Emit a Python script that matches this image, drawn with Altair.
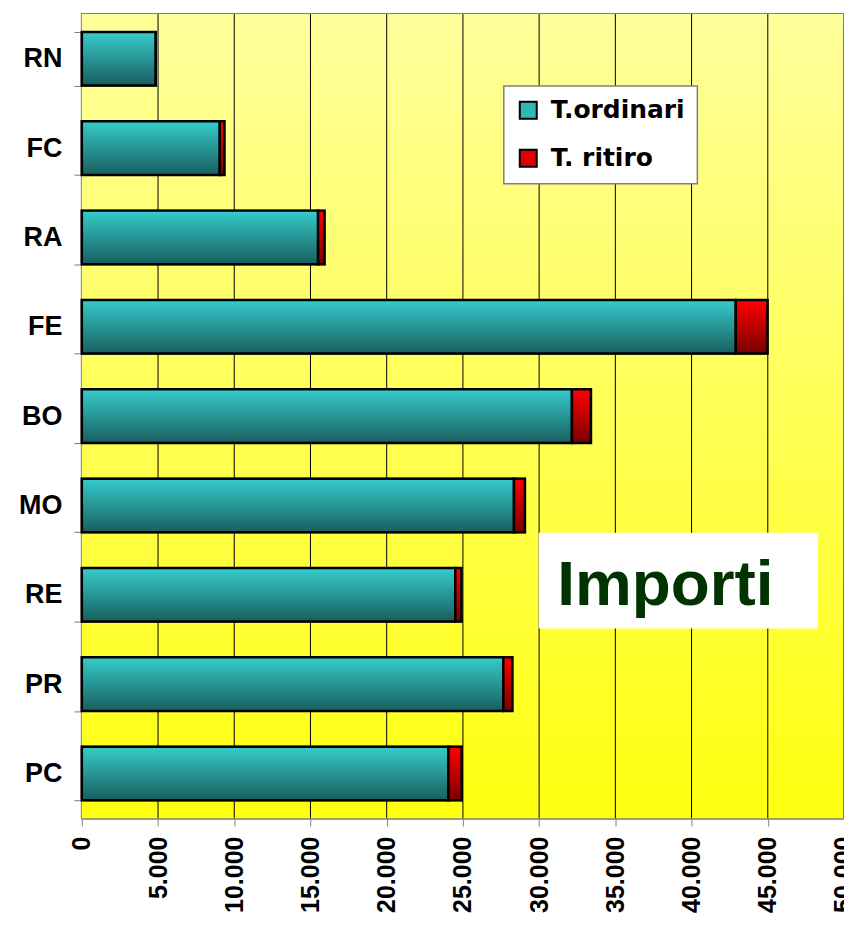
import altair as alt
import pandas as pd

categories = ["RN", "FC", "RA", "FE", "BO", "MO", "RE", "PR", "PC"]
ordinari = [4850, 9050, 15500, 42900, 32150, 28350, 24500, 27650, 24050]
ritiro = [0, 300, 420, 2080, 1250, 720, 400, 590, 870]
series_names = ["T.ordinari", "T. ritiro"]
tick_values = [0, 5000, 10000, 15000, 20000, 25000, 30000, 35000, 40000, 45000, 50000]
grid_values = tick_values[1:]

W, H = 764, 806

rows = []
for c, o, r in zip(categories, ordinari, ritiro):
    rows.append({"cat": c, "series": series_names[0], "start": 0, "end": o})
    rows.append({"cat": c, "series": series_names[1], "start": o, "end": o + r})
df = pd.DataFrame(rows)

ysc = alt.Scale(domain=categories, paddingInner=0.4, paddingOuter=0.2)
xsc = alt.Scale(domain=[0, 50000], nice=False)

def grad(top, bottom):
    return alt.Gradient(
        gradient="linear",
        stops=[alt.GradientStop(color=top, offset=0), alt.GradientStop(color=bottom, offset=1)],
        x1=0, x2=0, y1=0, y2=1,
    )

blank = alt.Data(values=[{}])

background = alt.Chart(blank).mark_rect(fill=grad("#FFFF9C", "#FFFF10")).encode(
    x=alt.value(0), x2=alt.value(W), y=alt.value(0), y2=alt.value(H)
)

grid = alt.Chart(pd.DataFrame({"g": grid_values})).mark_rule(color="#000000", strokeWidth=1).encode(
    x=alt.X("g:Q", scale=xsc), y=alt.value(0), y2=alt.value(H)
)

x_axis = alt.Axis(
    values=tick_values,
    labelExpr="replace(format(datum.value, ','), ',', '.')",
    labelAngle=-90,
    labelFont="Liberation Sans", labelFontWeight="bold", labelFontSize=25, labelColor="black",
    labelPadding=10, tickSize=8, tickColor="#808080", domainColor="#808080", domainWidth=2,
    grid=False, title=None, labelOverlap=False, labelBound=False,
)
y_axis = alt.Axis(
    labelFont="Liberation Sans", labelFontWeight="bold", labelFontSize=27, labelColor="black",
    labelPadding=12, tickSize=8, tickColor="#808080", tickBand="extent",
    domainColor="#808080", domainWidth=2, grid=False, title=None,
)

flat = alt.Chart(df).mark_bar(stroke="black", strokeWidth=2).encode(
    x=alt.X("start:Q", scale=xsc, axis=x_axis),
    x2="end:Q",
    y=alt.Y("cat:N", scale=ysc, axis=y_axis, sort=categories),
    color=alt.Color("series:N", scale=alt.Scale(domain=series_names, range=["#2EB8B8", "#E00000"]),
                    legend=alt.Legend(title=None)),
)

teal = alt.Chart(df).transform_filter(alt.datum.series == series_names[0]).mark_bar(
    fill=grad("#36CCCC", "#195E5E"), stroke="black", strokeWidth=2.5
).encode(x=alt.X("start:Q", scale=xsc), x2="end:Q", y=alt.Y("cat:N", scale=ysc, sort=categories))

red = alt.Chart(df).transform_filter(alt.datum.series == series_names[1]).mark_bar(
    fill=grad("#FF0000", "#7A0000"), stroke="black", strokeWidth=2.5
).encode(x=alt.X("start:Q", scale=xsc), x2="end:Q", y=alt.Y("cat:N", scale=ysc, sort=categories))

box = alt.Chart(blank).mark_rect(fill="white").encode(
    x=alt.value(458), x2=alt.value(738), y=alt.value(520), y2=alt.value(616)
)
title_text = alt.Chart(blank).mark_text(
    text="Importi", font="Liberation Sans", fontWeight="bold", fontSize=64,
    color="#003300", align="center", baseline="alphabetic"
).encode(x=alt.value(585), y=alt.value(592))

chart = alt.layer(background, grid, flat, teal, red, box, title_text).properties(
    width=W, height=H,
    autosize=alt.AutoSizeParams(type="none"),
    padding={"left": 74, "top": 5, "right": 0, "bottom": 99},
).configure_view(stroke="#808080", strokeWidth=2).configure_legend(
    orient="none", legendX=423, legendY=72,
    fillColor="white", strokeColor="#808080", strokeWidth=1.5,
    padding=12, rowPadding=22,
    symbolType="square", symbolSize=289, symbolStrokeColor="black", symbolStrokeWidth=2,
    labelFont="DejaVu Sans", labelFontWeight="bold", labelFontSize=25, labelColor="black",
    labelOffset=10,
)

chart.save("out.html", embed_options={"renderer": "svg", "actions": False})
